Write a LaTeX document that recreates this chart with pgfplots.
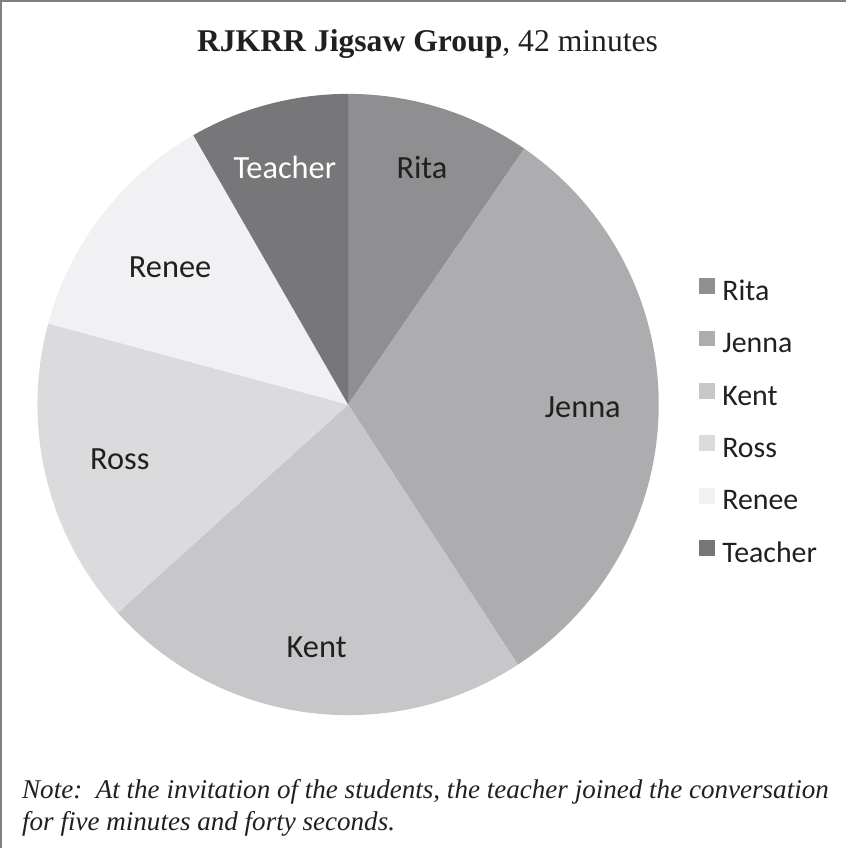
\documentclass[border=0pt]{standalone}
\usepackage{fontspec}
\setmainfont{Liberation Serif}
\newfontfamily\carlito{Carlito}
\usepackage{pgfplots}
\usepackage{pgfplotstable}
\pgfplotsset{compat=1.18}

\definecolor{cRita}{HTML}{8F8F92}
\definecolor{cJenna}{HTML}{ADADB0}
\definecolor{cKent}{HTML}{C7C7C9}
\definecolor{cRoss}{HTML}{DBDBDD}
\definecolor{cRenee}{HTML}{F1F1F3}
\definecolor{cTeacher}{HTML}{77777A}
\definecolor{labeltext}{HTML}{202020}
\definecolor{frame}{HTML}{808080}

% share of talk time (percent), slice colour, label radius, label colour
\pgfplotstableread{
name    share  col      lr   tc
Rita    9.6    cRita    249  labeltext
Jenna   31.2   cJenna   235  labeltext
Kent    22.5   cKent    245  labeltext
Ross    15.9   cRoss    235  labeltext
Renee   12.5   cRenee   225  labeltext
Teacher 8.3    cTeacher 246  white
}\piedata

\begin{document}
\begin{tikzpicture}
\begin{axis}[x=1bp, y=1bp, xmin=0, xmax=847, ymin=0, ymax=849,
  hide axis, clip=false]
\pgfplotsextra{%
  % outer frame (top and left edges)
  \draw[color=frame, line width=2bp] (axis cs:1,0) -- (axis cs:1,848) -- (axis cs:847,848);
  \def\cum{0}%
  \pgfplotsforeachungrouped \i in {0,...,5}{%
    \pgfplotstablegetelem{\i}{share}\of\piedata \let\sliceval\pgfplotsretval
    \pgfplotstablegetelem{\i}{col}\of\piedata \let\slicecol\pgfplotsretval
    \pgfplotstablegetelem{\i}{lr}\of\piedata \let\labrad\pgfplotsretval
    \pgfplotstablegetelem{\i}{tc}\of\piedata \let\labcol\pgfplotsretval
    \pgfplotstablegetelem{\i}{name}\of\piedata \let\slicename\pgfplotsretval
    \pgfmathsetmacro\sa{90-3.6*\cum}%
    \pgfmathsetmacro\ea{90-3.6*(\cum+\sliceval)}%
    \pgfmathsetmacro\ma{(\sa+\ea)/2}%
    \fill[color=\slicecol] (axis cs:348.5,444) -- ++(\sa:311bp)
      arc[start angle=\sa, end angle=\ea, radius=311bp] -- cycle;
    \path (axis cs:348.5,444) ++(\ma:\labrad bp)
      node[text=\labcol, font=\carlito\fontsize{32.5}{38}\selectfont] {\slicename};
    % legend entry
    \pgfmathsetmacro\ly{562.5-52.4*\i}%
    \pgfmathsetmacro\lyb{\ly-8}%
    \pgfmathsetmacro\lyt{\ly+8}%
    \pgfmathsetmacro\lybase{\ly-14.5}%
    \fill[color=\slicecol] (axis cs:700,\lyb) rectangle (axis cs:716,\lyt);
    \node[anchor=base west, inner sep=0pt, text=labeltext,
      font=\carlito\fontsize{30}{35}\selectfont] at (axis cs:723,\lybase) {\slicename};
    \pgfmathsetmacro\cum{\cum+\sliceval}%
  }%
  % title
  \node[anchor=base, inner sep=0pt, text=labeltext] at (axis cs:428,797)
    {\fontsize{31.8}{38}\selectfont\textbf{RJKRR Jigsaw Group}, 42 minutes};
  % note below the chart
  \node[anchor=base west, inner sep=0pt, text=labeltext] at (axis cs:22,50)
    {\fontsize{27.2}{32}\selectfont\itshape Note:\ \ At the invitation of the students, the teacher joined the conversation};
  \node[anchor=base west, inner sep=0pt, text=labeltext] at (axis cs:22,18)
    {\fontsize{27.2}{32}\selectfont\itshape for five minutes and forty seconds.};
}
\end{axis}
\end{tikzpicture}
\end{document}
